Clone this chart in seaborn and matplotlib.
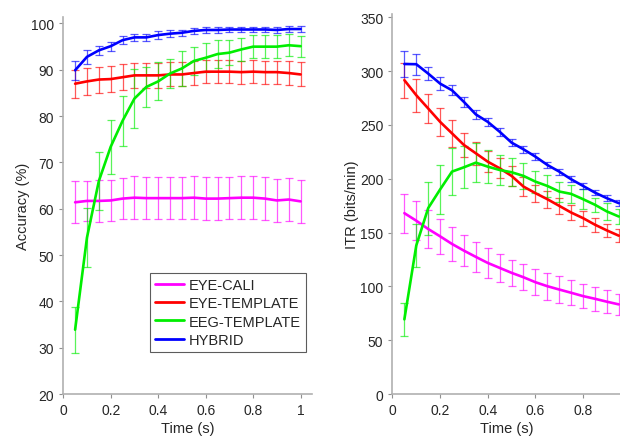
import numpy as np
import pandas as pd
import matplotlib
matplotlib.use("Agg")
import matplotlib.pyplot as plt
import seaborn as sns

# data
time_acc = [0.05, 0.10, 0.15, 0.20, 0.25, 0.30, 0.35, 0.40, 0.45, 0.50,
            0.55, 0.60, 0.65, 0.70, 0.75, 0.80, 0.85, 0.90, 0.95, 1.00]
time_itr = time_acc[:19]
methods = ["EYE-CALI", "EYE-TEMPLATE", "EEG-TEMPLATE", "HYBRID"]
colors = ["#FF00FF", "#FF0000", "#00EE00", "#0000FF"]

acc_eye_cali = [61.4, 61.7, 61.7, 61.8, 62.2, 62.4, 62.3, 62.3, 62.3, 62.3,
                62.4, 62.2, 62.2, 62.3, 62.4, 62.4, 62.2, 61.8, 62.0, 61.6]
acc_eye_cali_err = [4.5, 4.4, 4.5, 4.5, 4.5, 4.6, 4.6, 4.6, 4.6, 4.6,
                    4.6, 4.6, 4.6, 4.6, 4.6, 4.6, 4.6, 4.6, 4.6, 4.6]
acc_eye_tmpl = [87.0, 87.5, 87.9, 88.0, 88.4, 88.8, 88.8, 88.8, 89.0, 89.0,
                89.3, 89.6, 89.6, 89.6, 89.5, 89.6, 89.5, 89.5, 89.3, 89.0]
acc_eye_tmpl_err = [3.0, 2.9, 2.8, 2.8, 2.8, 2.7, 2.7, 2.7, 2.6, 2.6,
                    2.6, 2.5, 2.5, 2.5, 2.5, 2.5, 2.5, 2.5, 2.5, 2.6]
acc_eeg_tmpl = [33.9, 53.8, 66.0, 73.4, 79.0, 83.8, 86.3, 87.5, 89.2, 90.3,
                91.9, 92.6, 93.4, 93.7, 94.4, 95.0, 95.0, 95.0, 95.3, 95.1]
acc_eeg_tmpl_err = [5.0, 6.4, 6.2, 5.8, 5.4, 6.4, 4.4, 4.1, 3.2, 3.7,
                    3.1, 3.1, 3.1, 2.7, 2.4, 2.5, 2.5, 2.5, 2.4, 2.3]
acc_hybrid = [89.9, 92.8, 94.2, 95.1, 96.4, 97.0, 97.0, 97.5, 97.8, 98.0,
              98.4, 98.6, 98.6, 98.7, 98.7, 98.7, 98.7, 98.6, 98.8, 98.8]
acc_hybrid_err = [2.0, 1.5, 1.0, 1.0, 0.9, 0.8, 0.8, 0.8, 0.7, 0.7,
                  0.7, 0.6, 0.6, 0.6, 0.6, 0.6, 0.6, 0.6, 0.6, 0.6]

itr_eye_cali = [168.0, 161.0, 153.3, 146.5, 139.4, 133.2, 127.4, 121.8, 117.2, 112.6,
                108.5, 103.9, 100.2, 97.1, 94.1, 91.0, 88.5, 85.8, 83.3]
itr_eye_cali_err = [18.2, 18.2, 18.0, 16.2, 15.4, 14.6, 14.2, 13.9, 13.0, 12.3,
                    12.3, 12.3, 12.6, 12.3, 11.8, 11.5, 11.0, 10.5, 10.0]
itr_eye_tmpl = [291.5, 277.5, 265.2, 252.8, 242.1, 231.3, 223.6, 215.8, 209.7, 202.6,
                192.7, 186.6, 181.0, 174.8, 168.6, 163.4, 157.3, 152.0, 147.1]
itr_eye_tmpl_err = [16.2, 15.1, 13.7, 13.1, 12.6, 11.5, 10.5, 10.0, 9.5, 9.0,
                    8.5, 8.0, 7.8, 7.5, 7.2, 7.0, 6.5, 6.2, 6.0]
itr_eeg_tmpl = [69.4, 138.0, 172.7, 190.0, 206.6, 210.6, 214.9, 211.2, 208.1, 206.0,
                202.6, 197.3, 193.3, 188.1, 185.9, 181.0, 175.8, 169.6, 164.9]
itr_eeg_tmpl_err = [15.4, 20.0, 24.7, 22.7, 21.6, 19.6, 18.0, 15.0, 13.9, 13.0,
                    11.7, 10.2, 10.0, 9.3, 8.5, 9.5, 6.6, 7.7, 7.4]
itr_hybrid = [306.5, 306.3, 297.6, 288.3, 282.1, 271.3, 259.7, 252.8, 243.6, 233.5,
              227.3, 220.5, 212.8, 206.6, 199.5, 193.3, 187.1, 181.9, 177.3]
itr_hybrid_err = [12.3, 9.7, 6.2, 5.9, 4.8, 4.5, 4.0, 3.8, 3.5, 3.3,
                  3.2, 3.0, 3.0, 2.8, 2.8, 2.7, 2.6, 2.6, 2.5]

acc_vals = [acc_eye_cali, acc_eye_tmpl, acc_eeg_tmpl, acc_hybrid]
acc_errs = [acc_eye_cali_err, acc_eye_tmpl_err, acc_eeg_tmpl_err, acc_hybrid_err]
itr_vals = [itr_eye_cali, itr_eye_tmpl, itr_eeg_tmpl, itr_hybrid]
itr_errs = [itr_eye_cali_err, itr_eye_tmpl_err, itr_eeg_tmpl_err, itr_hybrid_err]


def long_frame(times, vals, errs):
    rows = []
    for m, v, e in zip(methods, vals, errs):
        for t, y, s in zip(times, v, e):
            rows.append({"time": t, "value": y, "err": s, "method": m})
    return pd.DataFrame(rows)


sns.set_style("ticks")
plt.rcParams["font.family"] = ["Liberation Sans", "DejaVu Sans"]
plt.rcParams["font.size"] = 10

fig = plt.figure(figsize=(6.2, 4.39), dpi=100)
ax1 = fig.add_axes([0.102, 0.100, 0.402, 0.859])
ax2 = fig.add_axes([0.633, 0.100, 0.370, 0.866])

palette = dict(zip(methods, colors))


def draw_panel(ax, df):
    for m in methods:
        sub = df[df["method"] == m]
        ax.errorbar(sub["time"], sub["value"], yerr=sub["err"], fmt="none",
                    ecolor=palette[m], elinewidth=0.9, capsize=3, capthick=0.9,
                    alpha=0.65, zorder=2)
    sns.lineplot(data=df, x="time", y="value", hue="method", hue_order=methods,
                 palette=palette, linewidth=1.9, ax=ax, zorder=3)
    for side in ["top", "right"]:
        ax.spines[side].set_visible(False)
    for side in ["left", "bottom"]:
        ax.spines[side].set_color("#b0b0b0")
        ax.spines[side].set_linewidth(1.2)
    ax.tick_params(direction="out", length=3, color="#909090",
                   labelcolor="#262626", labelsize=10)
    ax.set_xlabel("Time (s)", fontsize=10.5, color="#262626", labelpad=3)


df_acc = long_frame(time_acc, acc_vals, acc_errs)
draw_panel(ax1, df_acc)
ax1.set_xlim(0, 1.05)
ax1.set_ylim(20, 101.4)
ax1.set_xticks([0, 0.2, 0.4, 0.6, 0.8, 1])
ax1.set_xticklabels(["0", "0.2", "0.4", "0.6", "0.8", "1"])
ax1.set_yticks(np.arange(20, 101, 10))
ax1.set_ylabel("Accuracy (%)", fontsize=10.5, color="#262626", labelpad=1)
leg = ax1.legend(loc="lower right", bbox_to_anchor=(0.99, 0.1), frameon=True,
                 fancybox=False, edgecolor="#333333", fontsize=10.5,
                 handlelength=2.0, handletextpad=0.3, borderpad=0.35,
                 labelspacing=0.3, borderaxespad=0.3, title=None)
leg.get_frame().set_linewidth(0.8)
for line in leg.get_lines():
    line.set_linewidth(2)

df_itr = long_frame(time_itr, itr_vals, itr_errs)
draw_panel(ax2, df_itr)
ax2.set_xlim(0, 0.963)
ax2.set_ylim(0, 353)
ax2.set_xticks([0, 0.2, 0.4, 0.6, 0.8])
ax2.set_xticklabels(["0", "0.2", "0.4", "0.6", "0.8"])
ax2.set_yticks(np.arange(0, 351, 50))
ax2.set_ylabel("ITR (bits/min)", fontsize=10.5, color="#262626", labelpad=1)
ax2.get_legend().remove()

fig.savefig("out.png", dpi=100)
